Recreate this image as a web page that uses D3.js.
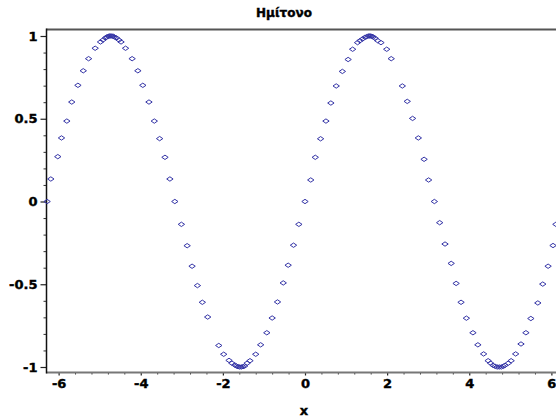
<!DOCTYPE html>
<html>
<head>
<meta charset="utf-8">
<script src="https://cdn.jsdelivr.net/npm/d3@7"></script>
<style>
  html, body { margin: 0; padding: 0; background: #fff; }
  svg { display: block; }
  .tick text { font-family: "DejaVu Sans", sans-serif; font-weight: bold; font-size: 13px; fill: #000; stroke: #000; stroke-width: 0.4px; }
</style>
</head>
<body>
<script>
const title = "Ημίτονο"
const xLabel = "x"
const xTicks = [-6, -4, -2, 0, 2, 4, 6]
const yTicks = [-1, -0.5, 0, 0.5, 1]

// sample points (adaptive sampling, dense near the peaks)
const sampleX = [
  -6.28, -6.19, -6.02, -5.93, -5.80, -5.68, -5.53, -5.40, -5.27, -5.11,
  -4.98, -4.92, -4.86, -4.83, -4.79, -4.76, -4.73, -4.70, -4.67, -4.64,
  -4.59, -4.53, -4.48, -4.37, -4.21, -4.07, -3.95, -3.80, -3.67, -3.54,
  -3.41, -3.29, -3.17,
  -3.01, -2.87, -2.75, -2.62, -2.50, -2.37, -2.10, -1.98, -1.85, -1.78,
  -1.71, -1.67, -1.63, -1.59, -1.55, -1.51, -1.47, -1.41, -1.34, -1.20,
  -1.08, -0.93, -0.80, -0.67, -0.53, -0.41, -0.28, -0.15, 0,
  0.14, 0.25, 0.38, 0.51, 0.63, 0.76, 0.91, 1.05, 1.16, 1.28,
  1.34, 1.40, 1.46, 1.50, 1.54, 1.57, 1.60, 1.63, 1.66, 1.71,
  1.77, 1.85, 1.99, 2.10, 2.37, 2.49, 2.62, 2.76, 2.90, 3.01,
  3.15,
  3.28, 3.41, 3.56, 3.68, 3.80, 3.93, 4.09, 4.21, 4.35, 4.46,
  4.52, 4.58, 4.63, 4.68, 4.73, 4.78, 4.83, 4.87, 4.95, 5.02,
  5.13, 5.26, 5.38, 5.50, 5.67, 5.79, 5.92, 6.04, 6.11, 6.28
]
const sampleY = [
  0, 0.136, 0.271, 0.384, 0.486, 0.601, 0.702, 0.790, 0.863, 0.926,
  0.964, 0.976, 0.988, 0.994, 0.998, 1, 1, 1, 0.998, 0.994,
  0.988, 0.976, 0.964, 0.926, 0.863, 0.790, 0.702, 0.601, 0.486, 0.380,
  0.267, 0.136, 0,
  -0.138, -0.267, -0.391, -0.508, -0.609, -0.698, -0.870, -0.923, -0.960, -0.977,
  -0.988, -0.994, -0.998, -1, -1, -0.998, -0.994, -0.977, -0.962, -0.923,
  -0.866, -0.793, -0.704, -0.607, -0.492, -0.385, -0.264, -0.138, 0,
  0.130, 0.267, 0.379, 0.486, 0.595, 0.698, 0.786, 0.858, 0.920, 0.960,
  0.972, 0.982, 0.992, 0.996, 1, 1, 1, 0.998, 0.994, 0.986,
  0.972, 0.960, 0.920, 0.863, 0.698, 0.605, 0.502, 0.384, 0.255, 0.130,
  0,
  -0.128, -0.257, -0.374, -0.495, -0.609, -0.705, -0.793, -0.866, -0.921, -0.962,
  -0.977, -0.990, -0.996, -1, -1, -1, -0.996, -0.990, -0.977, -0.962,
  -0.921, -0.861, -0.793, -0.707, -0.613, -0.499, -0.391, -0.266, -0.138, 0
]

const width = 556, height = 417
const points = sampleX.map((x, i) => ({x: x, y: sampleY[i]}))

const x = d3.scaleLinear().domain([-6.283, 6.283]).range([47, 563])
const y = d3.scaleLinear().domain([-1, 1]).range([367, 36])

const frameLeft = 46.5, frameTop = 29.5, frameBottom = 372.5

const svg = d3.select("body").append("svg")
  .attr("width", width)
  .attr("height", height)

// minor ticks
const yMinor = d3.range(-10, 11).map(d => d / 10).filter(d => yTicks.indexOf(d) < 0)
const xMinor = d3.range(-16, 17).map(d => d * 0.4)
  .filter(d => !xTicks.some(t => Math.abs(t - d) < 0.01))

svg.append("g")
  .attr("transform", `translate(${frameLeft},0)`)
  .call(d3.axisLeft(y).tickValues(yMinor).tickSize(3).tickFormat(""))
  .call(g => g.select(".domain").remove())
  .call(g => g.selectAll("line").attr("stroke", "#333"))

svg.append("g")
  .attr("transform", `translate(${frameLeft},0)`)
  .call(d3.axisLeft(y).tickValues(yTicks).tickSize(6).tickPadding(3)
    .tickFormat(d => String(d)))
  .call(g => g.select(".domain").remove())
  .call(g => g.selectAll("line").attr("stroke", "#222").attr("stroke-width", 1.2))

svg.append("g")
  .attr("transform", `translate(0,${frameBottom})`)
  .call(d3.axisBottom(x).tickValues(xMinor.filter(d => x(d) > frameLeft + 2)).tickSize(2).tickFormat(""))
  .call(g => g.select(".domain").remove())
  .call(g => g.selectAll("line").attr("stroke", "#333"))

svg.append("g")
  .attr("transform", `translate(0,${frameBottom})`)
  .call(d3.axisBottom(x).tickValues(xTicks).tickSize(3).tickPadding(3)
    .tickFormat(d => String(d)))
  .call(g => g.select(".domain").remove())
  .call(g => g.selectAll("line").attr("stroke", "#222").attr("stroke-width", 1.2))

// frame lines
svg.append("line")
  .attr("x1", frameLeft).attr("x2", width).attr("y1", frameTop).attr("y2", frameTop)
  .attr("stroke", "#555").attr("stroke-width", 2)
svg.append("line")
  .attr("x1", frameLeft).attr("x2", width).attr("y1", frameBottom).attr("y2", frameBottom)
  .attr("stroke", "#777").attr("stroke-width", 2)
svg.append("line")
  .attr("x1", frameLeft).attr("x2", frameLeft).attr("y1", frameTop - 1).attr("y2", frameBottom + 1)
  .attr("stroke", "#111").attr("stroke-width", 1.5)

// diamond markers
const diamond = "M0,-2.2L3.2,0L0,2.2L-3.2,0Z"
svg.append("g")
  .selectAll("path")
  .data(points)
  .enter().append("path")
    .attr("transform", d => `translate(${x(d.x)},${y(d.y)})`)
    .attr("d", diamond)
    .attr("fill", "none")
    .attr("stroke", "#3434a6")
    .attr("stroke-width", 1)

svg.append("text")
  .attr("x", 284)
  .attr("y", 17)
  .attr("text-anchor", "middle")
  .style("font", "bold 12px 'DejaVu Sans', sans-serif")
  .style("stroke", "#000").style("stroke-width", "0.4px")
  .text(title)

svg.append("text")
  .attr("x", 304)
  .attr("y", 415)
  .attr("text-anchor", "middle")
  .style("font", "bold 13px 'DejaVu Sans', sans-serif")
  .style("stroke", "#000").style("stroke-width", "0.4px")
  .text(xLabel)
</script>
</body>
</html>
